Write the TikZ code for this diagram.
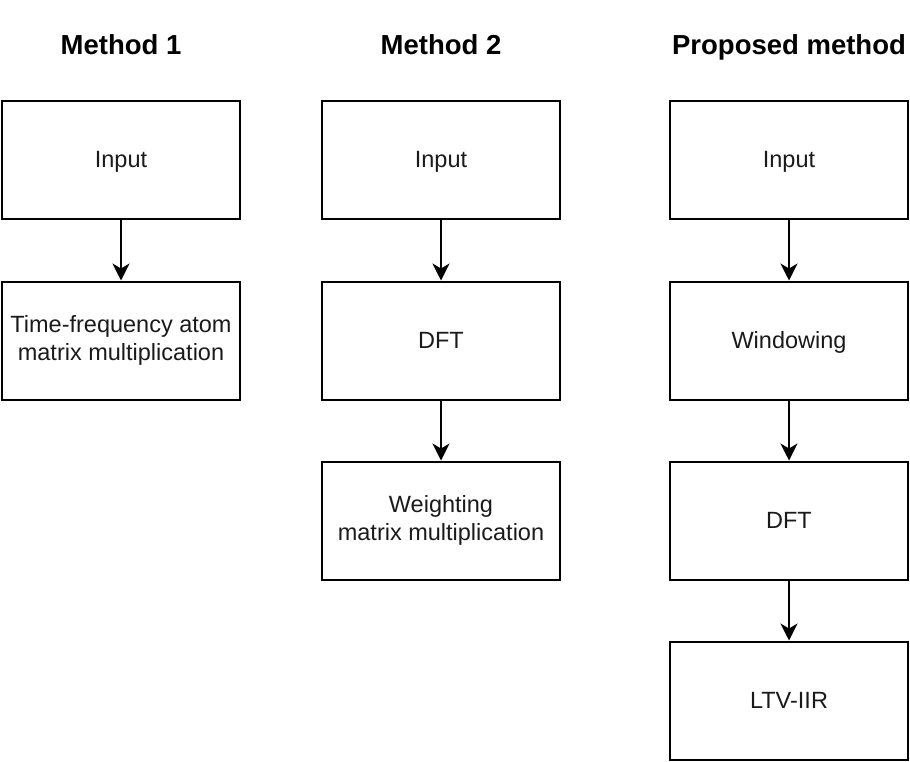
\documentclass[tikz,border=0pt]{standalone}
\usepackage{fontspec}
\setmainfont{Liberation Sans}
\usetikzlibrary{arrows.meta}
\definecolor{txt}{HTML}{1A1A1A}
\begin{document}
\begin{tikzpicture}[x=1pt,y=-1pt,
  box/.style={draw=black,line width=2pt,minimum width=238pt,minimum height=118pt,inner sep=0pt,align=center,text=txt,font=\fontsize{23.5}{28}\selectfont},
  blk/.style={box,text height=15pt,text depth=0pt},
  blktwo/.style={box},
  ttl/.style={font=\fontsize{27.5}{32}\selectfont\bfseries,inner sep=0pt,anchor=base},
  arr/.style={draw=black,line width=2pt,-{Stealth[length=17pt,width=17pt,inset=5pt]}}]
\useasboundingbox (0,0) rectangle (910,762);
\node[ttl] (t1) at (121,55) {Method 1};
\node[ttl] (t2) at (441,55) {Method 2};
\node[ttl] (t3) at (789,55) {Proposed method};
% column 1
\node[blk] (a1) at (121,160.5) {Input};
\node[blktwo] (a2) at (121,340.5) {Time-frequency atom\\matrix multiplication};
% column 2
\node[blk] (b1) at (441,160.5) {Input};
\node[blk] (b2) at (441,340.5) {DFT};
\node[blktwo] (b3) at (441,520.5) {Weighting\\matrix multiplication};
% column 3
\node[blk] (c1) at (789,160.5) {Input};
\node[blk] (c2) at (789,340.5) {Windowing};
\node[blk] (c3) at (789,520.5) {DFT};
\node[blk] (c4) at (789,700.5) {LTV-IIR};
\draw[arr] (a1) -- (a2);
\draw[arr] (b1) -- (b2);
\draw[arr] (b2) -- (b3);
\draw[arr] (c1) -- (c2);
\draw[arr] (c2) -- (c3);
\draw[arr] (c3) -- (c4);
\end{tikzpicture}
\end{document}
